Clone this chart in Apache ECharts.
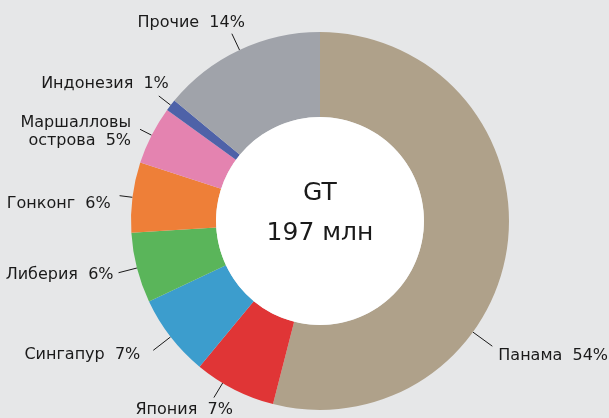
<!DOCTYPE html>
<html>
<head>
<meta charset="utf-8">
<script src="https://cdn.jsdelivr.net/npm/echarts@6/dist/echarts.min.js"></script>
<style>
  html, body { margin: 0; padding: 0; background: #e6e7e8; }
  #chart { width: 609px; height: 418px; }
</style>
</head>
<body>
<div id="chart"></div>
<script>
// shares of gross tonnage, %, clockwise from 12 o'clock
const countries = ['Панама', 'Япония', 'Сингапур', 'Либерия', 'Гонконг', 'Маршалловы\nострова', 'Индонезия', 'Прочие'];
const shares = [54, 7, 7, 6, 6, 5, 1, 14];
const colors = ['#afa18a', '#e03536', '#3c9dcd', '#5ab55a', '#ee7f38', '#e483b0', '#4e62a8', '#a0a3aa'];
const centerLines = ['GT', '197 млн'];

const font = 'DejaVu Sans';
const cx = 320, cy = 221, rIn = 104, rOut = 189;

// how each outside label hangs off its leader line:
// line length, text align, vertical align, offset of text from line end
const labelPlacement = [
  { len: 24, align: 'left', va: 'middle', dx: 6, dy: 10, angle: 126 },
  { len: 17, align: 'right', va: 'top', dx: 19, dy: 3, angle: 211 },
  { len: 22, align: 'right', va: 'middle', dx: -13, dy: 5 },
  { len: 19, align: 'right', va: 'middle', dx: -5, dy: 2 },
  { len: 13, align: 'right', va: 'middle', dx: -9, dy: 8 },
  { len: 13, align: 'right', va: 'middle', dx: -9, dy: 3 },
  { len: 15, align: 'right', va: 'middle', dx: 10, dy: -12 },
  { len: 18, align: 'right', va: 'bottom', dx: 13, dy: -2 },
];

const chart = echarts.init(document.getElementById('chart'));

chart.setOption({
  backgroundColor: '#e6e7e8',
  animation: false,
  series: [
    {
      type: 'pie',
      center: [cx, cy],
      radius: [rIn, rOut],
      startAngle: 90,
      clockwise: true,
      silent: true,
      label: {
        show: true,
        position: 'outside',
        color: '#1a1a1a',
        fontFamily: font,
        fontSize: 16,
        lineHeight: 18,
        overflow: 'none',
        formatter: p => p.name + '  ' + p.value + '%',
      },
      labelLine: {
        show: true,
        length: 16,
        length2: 0,
        lineStyle: { color: '#1a1a1a', width: 1 },
      },
      labelLayout: params => {
        const pl = labelPlacement[params.dataIndex];
        let ux, uy;
        if (pl.angle != null) {
          const a = pl.angle * Math.PI / 180;
          ux = Math.sin(a); uy = -Math.cos(a);
        } else {
          const p0 = params.labelLinePoints[0];
          const d = Math.hypot(p0[0] - cx, p0[1] - cy);
          ux = (p0[0] - cx) / d; uy = (p0[1] - cy) / d;
        }
        const sx = cx + rOut * ux, sy = cy + rOut * uy;
        const ex = cx + (rOut + pl.len) * ux, ey = cy + (rOut + pl.len) * uy;
        return {
          x: ex + pl.dx,
          y: ey + pl.dy,
          align: pl.align,
          verticalAlign: pl.va,
          labelLinePoints: [[sx, sy], [ex, ey], [ex, ey]],
        };
      },
      itemStyle: { borderWidth: 0 },
      data: countries.map((c, i) => ({
        name: c,
        value: shares[i],
        itemStyle: { color: colors[i] },
      })),
    },
    {
      type: 'pie',
      center: [cx, cy],
      radius: [0, rIn],
      silent: true,
      label: {
        show: true,
        position: 'center',
        color: '#1a1a1a',
        fontFamily: font,
        fontSize: 25,
        lineHeight: 40,
        formatter: () => centerLines.join('\n'),
      },
      labelLayout: { dy: -8 },
      labelLine: { show: false },
      data: [{ value: 1, name: 'total', itemStyle: { color: '#ffffff' } }],
    },
  ],
});
</script>
</body>
</html>
